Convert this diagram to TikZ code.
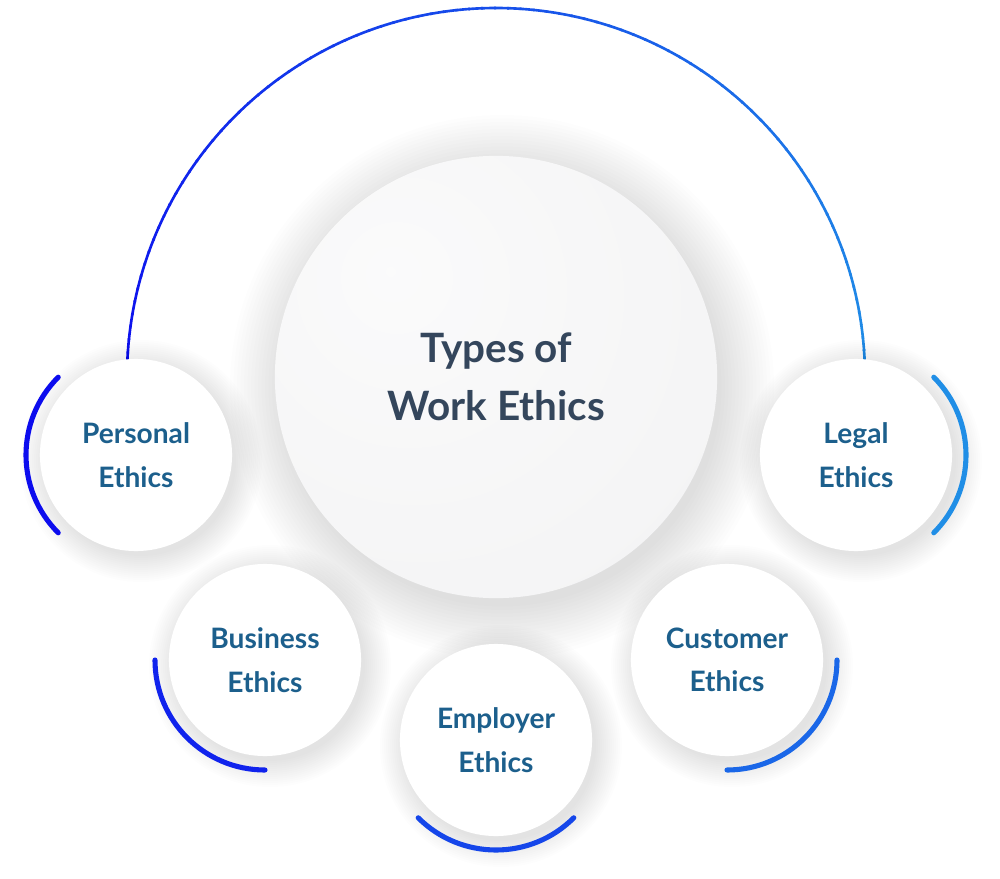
\documentclass[tikz,border=0pt]{standalone}
\usepackage{fontspec}
\setmainfont{Lato}
\usetikzlibrary{calc}

\definecolor{arcleft}{RGB}{12,12,238}
\definecolor{arcright}{RGB}{32,142,230}
\definecolor{labeltext}{RGB}{28,95,140}
\definecolor{coretext}{RGB}{52,70,92}
\definecolor{corefill}{RGB}{244,244,245}
\definecolor{coreedge}{RGB}{232,232,234}
\pgfdeclareradialshading{coreglow}{\pgfpoint{-12bp}{12bp}}{%
  color(0bp)=(white!60!corefill); color(38bp)=(corefill);
  color(67bp)=(coreedge); color(100bp)=(coreedge)}

\begin{document}
\begin{tikzpicture}[x=0.01cm, y=0.01cm,
   topic/.style={circle, fill=white, minimum size=1.92cm, inner sep=0pt,
     align=center, text=labeltext, font=\fontsize{8}{12.4}\selectfont\bfseries},
   core/.style={circle, shading=coreglow, minimum size=4.42cm, inner sep=0pt,
     align=center, text=coretext, font=\fontsize{11.5}{16.5}\selectfont\bfseries},
   rim/.style={line width=1.45pt, line cap=round}]
    \useasboundingbox (0,0) rectangle (1000,878);
    \coordinate (hub) at (496,501);
    \coordinate (p1) at (136,423);
    \coordinate (p2) at (265,218);
    \coordinate (p3) at (496,138);
    \coordinate (p4) at (727,218);
    \coordinate (p5) at (856,423);
    % big arc, colour runs from left to right
    \foreach \a in {0,2,...,178} {
      \pgfmathtruncatemacro\mixpart{\a/1.8}
      \draw[line width=0.75pt, arcleft!\mixpart!arcright]
        ($(hub)+(\a:369)$) arc[start angle=\a, delta angle=2.3, radius=369];
    }
    % soft shadows
    \foreach \k in {1,...,16}
      \fill[black, opacity=0.006] ([shift={(6,-10)}]hub) circle[radius=216+\k*3.5];
    \foreach \c in {p1,p2,p3,p4,p5}
      \foreach \k in {1,...,14}
        \fill[black, opacity=0.007] ([shift={(5,-6)}]\c) circle[radius=93+\k*2];
    % circles
    \node[core] (core) at (hub) {Types of\\Work Ethics};
    \node[topic] (personal) at (p1) {Personal\\Ethics};
    \node[topic] (business) at (p2) {Business\\Ethics};
    \node[topic] (employer) at (p3) {Employer\\Ethics};
    \node[topic] (customer) at (p4) {Customer\\Ethics};
    \node[topic] (legal) at (p5) {Legal\\Ethics};
    % rims
    \draw[rim, arcleft] ($(personal.center)+(135:110)$)
      arc[start angle=135, end angle=225, radius=110];
    \draw[rim, arcleft!82!arcright] ($(business.center)+(180:110)$)
      arc[start angle=180, end angle=270, radius=110];
    \draw[rim, arcleft!55!arcright] ($(employer.center)+(225:110)$)
      arc[start angle=225, end angle=315, radius=110];
    \draw[rim, arcleft!30!arcright] ($(customer.center)+(270:110)$)
      arc[start angle=270, end angle=360, radius=110];
    \draw[rim, arcright] ($(legal.center)+(-45:110)$)
      arc[start angle=-45, end angle=45, radius=110];
\end{tikzpicture}
\end{document}
